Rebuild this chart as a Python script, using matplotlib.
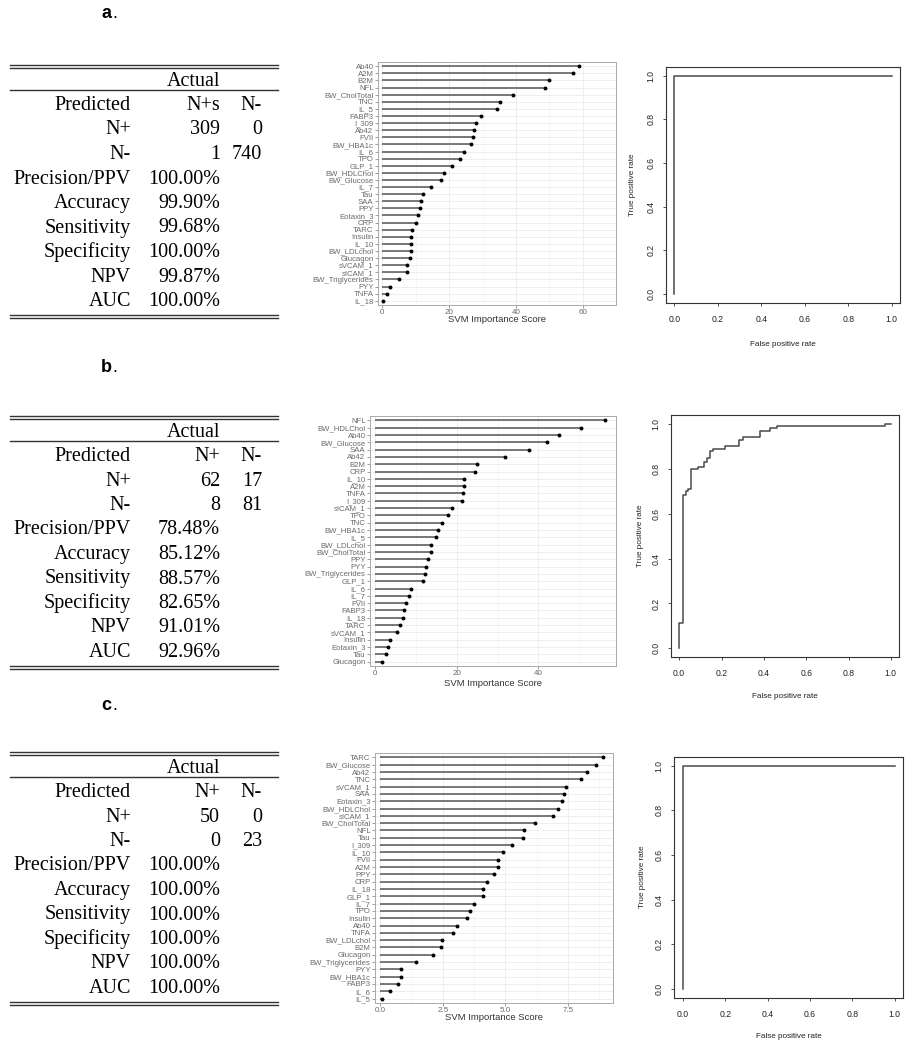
import matplotlib
matplotlib.use('Agg')
import matplotlib.pyplot as plt
from matplotlib.lines import Line2D

# ---------------- data ----------------
panel_letters = ['a', 'b', 'c']

table_row_labels = ['Predicted', 'N+', 'N-', 'Precision/PPV', 'Accuracy',
                    'Sensitivity', 'Specificity', 'NPV', 'AUC']
conf_header_a = ['N+s', 'N-']
conf_header_b = ['N+', 'N-']
conf_header_c = ['N+', 'N-']
conf_a = [['309', '0'], ['1', '740']]
conf_b = [['62', '17'], ['8', '81']]
conf_c = [['50', '0'], ['0', '23']]
metrics_a = ['100.00%', '99.90%', '99.68%', '100.00%', '99.87%', '100.00%']
metrics_b = ['78.48%', '85.12%', '88.57%', '82.65%', '91.01%', '92.96%']
metrics_c = ['100.00%', '100.00%', '100.00%', '100.00%', '100.00%', '100.00%']

features_a = ['Ab40', 'A2M', 'B2M', 'NFL', 'BW_CholTotal', 'TNC', 'IL_5', 'FABP3',
              'I_309', 'Ab42', 'FVII', 'BW_HBA1c', 'IL_6', 'TPO', 'GLP_1',
              'BW_HDLChol', 'BW_Glucose', 'IL_7', 'Tau', 'SAA', 'PPY', 'Eotaxin_3',
              'CRP', 'TARC', 'Insulin', 'IL_10', 'BW_LDLchol', 'Glucagon',
              'sVCAM_1', 'sICAM_1', 'BW_Triglycerides', 'PYY', 'TNFA', 'IL_18']
importance_a = [58.9, 57.0, 49.8, 48.8, 39.0, 35.1, 34.2, 29.6, 28.1, 27.4, 27.2,
                26.6, 24.4, 23.4, 20.8, 18.5, 17.6, 14.6, 12.1, 11.5, 11.3, 10.6,
                10.0, 8.9, 8.7, 8.6, 8.6, 8.2, 7.4, 7.3, 4.9, 2.3, 1.5, 0.2]

features_b = ['NFL', 'BW_HDLChol', 'Ab40', 'BW_Glucose', 'SAA', 'Ab42', 'B2M', 'CRP',
              'IL_10', 'A2M', 'TNFA', 'I_309', 'sICAM_1', 'TPO', 'TNC', 'BW_HBA1c',
              'IL_5', 'BW_LDLchol', 'BW_CholTotal', 'PPY', 'PYY', 'BW_Triglycerides',
              'GLP_1', 'IL_6', 'IL_7', 'FVII', 'FABP3', 'IL_18', 'TARC', 'sVCAM_1',
              'Insulin', 'Eotaxin_3', 'Tau', 'Glucagon']
importance_b = [56.3, 50.5, 45.1, 42.2, 37.8, 31.9, 25.0, 24.4, 21.8, 21.8, 21.6,
                21.3, 18.9, 17.8, 16.3, 15.4, 15.0, 13.7, 13.7, 12.9, 12.4, 12.3,
                11.8, 8.8, 8.3, 7.7, 7.2, 6.9, 6.1, 5.4, 3.7, 3.3, 2.8, 1.6]

features_c = ['TARC', 'BW_Glucose', 'Ab42', 'TNC', 'sVCAM_1', 'SAA', 'Eotaxin_3',
              'BW_HDLChol', 'sICAM_1', 'BW_CholTotal', 'NFL', 'Tau', 'I_309', 'IL_10',
              'FVII', 'A2M', 'PPY', 'CRP', 'IL_18', 'GLP_1', 'IL_7', 'TPO', 'Insulin',
              'Ab40', 'TNFA', 'BW_LDLchol', 'B2M', 'Glucagon', 'BW_Triglycerides',
              'PYY', 'BW_HBA1c', 'FABP3', 'IL_6', 'IL_5']
importance_c = [8.88, 8.60, 8.24, 8.01, 7.43, 7.33, 7.27, 7.11, 6.91, 6.16, 5.76,
                5.72, 5.25, 4.91, 4.69, 4.69, 4.53, 4.27, 4.11, 4.09, 3.75, 3.59,
                3.48, 3.08, 2.92, 2.47, 2.43, 2.11, 1.43, 0.83, 0.83, 0.71, 0.41, 0.07]

xticks_a = [0, 20, 40, 60]
xticks_b = [0, 20, 40]
xticks_c = [0.0, 2.5, 5.0, 7.5]
xticklabels_c = ['0.0', '2.5', '5.0', '7.5']

roc_a_fpr = [0.0, 0.0, 1.0]
roc_a_tpr = [0.0, 1.0, 1.0]
roc_b_fpr = [0.0, 0.0, 0.016, 0.03, 0.043, 0.058, 0.09, 0.117, 0.13, 0.145, 0.16,
             0.216, 0.284, 0.30, 0.38, 0.43, 0.46, 0.973, 1.0]
roc_b_tpr = [0.0, 0.111, 0.683, 0.70, 0.71, 0.80, 0.81, 0.83, 0.85, 0.88, 0.89,
             0.90, 0.93, 0.94, 0.97, 0.98, 0.99, 1.0, 1.0]
roc_c_fpr = [0.0, 0.0, 1.0]
roc_c_tpr = [0.0, 1.0, 1.0]
roc_ticks = [0.0, 0.2, 0.4, 0.6, 0.8, 1.0]
roc_ticklabels = ['0.0', '0.2', '0.4', '0.6', '0.8', '1.0']

# ---------------- figure ----------------
W, H = 913, 1050
fig = plt.figure(figsize=(W / 100, H / 100), dpi=100)
fig.patch.set_facecolor('white')

SANS = 'Liberation Sans'
SERIF = 'Liberation Serif'


def fx(x):
    return x / W


def fy(y):
    return 1 - y / H


def add_ax(l, t, r, b):
    return fig.add_axes([l / W, 1 - b / H, (r - l) / W, (b - t) / H])


def hline(x0, x1, y, lw=1.0, color='#333333'):
    fig.add_artist(Line2D([fx(x0), fx(x1)], [fy(y), fy(y)], lw=lw, color=color,
                          transform=fig.transFigure))


def draw_table(T, header, conf, metrics):
    L, R = 10, 278
    fs = 14.5
    off = 7
    hline(L, R, T, lw=1.0)
    hline(L, R, T + 3, lw=1.0)
    fig.text(fx(220), fy(T + 14 + off), 'Actual', ha='right', va='baseline',
             fontsize=fs, family=SERIF)
    hline(L, R, T + 25, lw=1.0)
    step = 24.5
    y0 = T + 38
    fig.text(fx(131), fy(y0 + off), table_row_labels[0], ha='right', va='baseline',
             fontsize=fs, family=SERIF)
    fig.text(fx(220), fy(y0 + off), header[0], ha='right', va='baseline',
             fontsize=fs, family=SERIF)
    fig.text(fx(262), fy(y0 + off), header[1], ha='right', va='baseline',
             fontsize=fs, family=SERIF)
    for i in range(2):
        y = y0 + step * (i + 1)
        fig.text(fx(131), fy(y + off), table_row_labels[i + 1], ha='right',
                 va='baseline', fontsize=fs, family=SERIF)
        fig.text(fx(220), fy(y + off), conf[i][0], ha='right', va='baseline',
                 fontsize=fs, family=SERIF)
        fig.text(fx(262), fy(y + off), conf[i][1], ha='right', va='baseline',
                 fontsize=fs, family=SERIF)
    for i in range(6):
        y = y0 + step * (i + 3)
        fig.text(fx(131), fy(y + off), table_row_labels[i + 3], ha='right',
                 va='baseline', fontsize=fs, family=SERIF)
        fig.text(fx(220), fy(y + off), metrics[i], ha='right', va='baseline',
                 fontsize=fs, family=SERIF)
    yb = y0 + step * 8 + 16
    hline(L, R, yb, lw=1.0)
    hline(L, R, yb + 3, lw=1.0)


def draw_lollipop(rect, feats, vals, xlim, xticks, xticklabels, xlabel_y):
    ax = add_ax(*rect)
    n = len(feats)
    ypos = [n - i for i in range(n)]
    ax.set_axisbelow(True)
    ax.hlines(ypos, 0, vals, color='#555555', lw=1.1, zorder=2)
    ax.scatter(vals, ypos, s=8, color='black', zorder=3, linewidths=0)
    ax.set_xlim(*xlim)
    ax.set_ylim(0.4, n + 0.6)
    ax.set_yticks(ypos)
    ax.set_yticklabels(feats, fontsize=5.6, color='#6a6a6a', family=SANS)
    ax.set_xticks(xticks)
    ax.set_xticklabels(xticklabels, fontsize=5.8, color='#6a6a6a', family=SANS)
    minor = [(xticks[i] + xticks[i + 1]) / 2 for i in range(len(xticks) - 1)]
    minor.append(xticks[-1] + (xticks[1] - xticks[0]) / 2)
    ax.set_xticks(minor, minor=True)
    ax.tick_params(axis='x', which='minor', length=0)
    ax.tick_params(axis='both', which='major', length=2, width=0.5,
                   color='#777777', pad=1.2)
    ax.grid(True, which='major', axis='both', color='#ebebeb', lw=0.6)
    ax.grid(True, which='minor', axis='x', color='#f2f2f2', lw=0.4)
    for s in ax.spines.values():
        s.set_color('#aaaaaa')
        s.set_linewidth(0.7)
    cx = (rect[0] + rect[2]) / 2
    fig.text(fx(cx), fy(xlabel_y), 'SVM Importance Score', ha='center',
             va='center', fontsize=6.8, color='#333333', family=SANS)
    return ax


def draw_roc(rect, fpr, tpr, ylab_x, xlab_y):
    ax = add_ax(*rect)
    ax.plot(fpr, tpr, drawstyle='steps-post', color='#4a4a4a', lw=1.1)
    ax.set_xlim(-0.04, 1.04)
    ax.set_ylim(-0.04, 1.04)
    ax.set_xticks(roc_ticks)
    ax.set_xticklabels(roc_ticklabels, fontsize=6.2, family=SANS, color='#222222')
    ax.set_yticks(roc_ticks)
    ax.set_yticklabels(roc_ticklabels, fontsize=6.2, family=SANS, color='#222222',
                       rotation=90, va='center')
    ax.tick_params(axis='both', length=2.5, width=0.6, color='#333333')
    ax.tick_params(axis='x', pad=6)
    ax.tick_params(axis='y', pad=5)
    for s in ax.spines.values():
        s.set_color('#333333')
        s.set_linewidth(0.8)
    cy = (rect[1] + rect[3]) / 2
    cx = (rect[0] + rect[2]) / 2
    fig.text(fx(ylab_x), fy(cy), 'True positive rate', rotation=90, ha='center',
             va='center', fontsize=5.9, family=SANS, color='#222222')
    fig.text(fx(cx), fy(xlab_y), 'False positive rate', ha='center', va='center',
             fontsize=5.9, family=SANS, color='#222222')
    return ax


# panel letters
for letter, y in zip(panel_letters, [13, 368, 706]):
    fig.text(fx(101), fy(y), letter, ha='left', va='center', fontsize=13,
             fontweight='bold', family=SANS)
    fig.text(fx(112), fy(y), '.', ha='left', va='center', fontsize=13, family=SANS)

# tables
draw_table(65, conf_header_a, conf_a, metrics_a)
draw_table(416, conf_header_b, conf_b, metrics_b)
draw_table(752, conf_header_c, conf_c, metrics_c)

# lollipops
draw_lollipop((378, 62, 616, 305), features_a, importance_a, (-1.32, 61.6),
              xticks_a, [str(v) for v in xticks_a], 320)
draw_lollipop((370, 416, 616, 666), features_b, importance_b, (-1.22, 59.0),
              xticks_b, [str(v) for v in xticks_b], 683)
draw_lollipop((375, 753, 613, 1003), features_c, importance_c, (-0.2, 9.29),
              xticks_c, xticklabels_c, 1018)

# ROC curves
draw_roc((665.6, 67, 900.4, 302.7), roc_a_fpr, roc_a_tpr, 633, 345)
draw_roc((670.7, 415, 899.3, 657.3), roc_b_fpr, roc_b_tpr, 640, 697)
draw_roc((674.3, 756.7, 903.3, 997.7), roc_c_fpr, roc_c_tpr, 642, 1037)

fig.savefig('out.png', dpi=100, facecolor='white')
